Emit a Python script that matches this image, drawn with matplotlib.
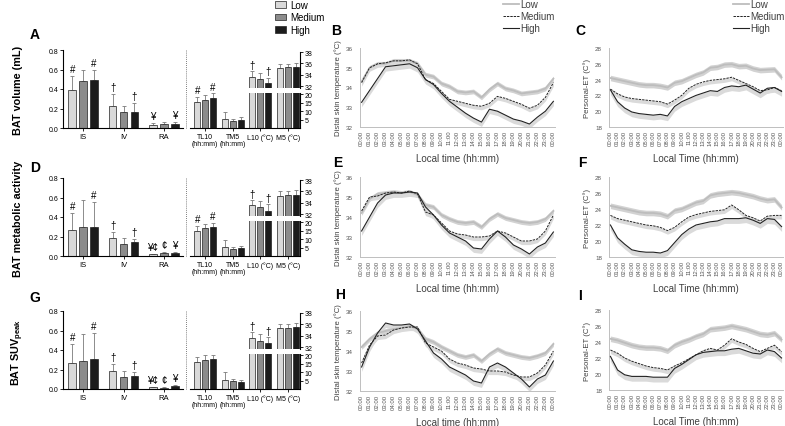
import matplotlib
matplotlib.use('Agg')
import matplotlib.pyplot as plt
import numpy as np
from matplotlib.patches import Patch
from matplotlib.lines import Line2D

plt.rcParams['font.family'] = ['Liberation Sans', 'DejaVu Sans']
plt.rcParams['mathtext.fontset'] = 'custom'
plt.rcParams['mathtext.rm'] = 'Liberation Sans'

GROUPS = ['Low', 'Medium', 'High']
BAR_COLORS = ['#d9d9d9', '#8c8c8c', '#1c1c1c']
LEFT_CATS = ['IS', 'IV', 'RA']
RIGHT_CATS = ['TL10\n(hh:mm)', 'TM5\n(hh:mm)', 'L10 (°C)', 'M5 (°C)']
HOURS = ['00:00', '01:00', '02:00', '03:00', '04:00', '05:00', '06:00', '07:00',
         '08:00', '09:00', '10:00', '11:00', '12:00', '13:00', '14:00', '15:00',
         '16:00', '17:00', '18:00', '19:00', '20:00', '21:00', '22:00', '23:00', '00:00']

# bar panels: rows are Low / Medium / High, columns are the categories
A_left_mean = [[0.39, 0.23, 0.03], [0.48, 0.16, 0.04], [0.49, 0.16, 0.04]]
A_left_sd = [[0.14, 0.12, 0.02], [0.12, 0.07, 0.02], [0.11, 0.10, 0.02]]
A_left_marks = [['#', '†', '¥'], ['', '', ''], ['#', '†', '¥']]
A_right_mean = [[15.3, 5.5, 33.6, 35.2], [16.5, 4.0, 33.2, 35.4], [17.7, 4.5, 32.6, 35.3]]
A_right_sd = [[3.2, 4.0, 1.0, 0.7], [2.7, 1.2, 1.15, 0.4], [2.7, 2.0, 0.9, 0.8]]
A_right_marks = [['#', '', '†', ''], ['', '', '', ''], ['#', '', '†', '']]

D_left_mean = [[0.27, 0.18, 0.02], [0.30, 0.12, 0.03], [0.30, 0.14, 0.03]]
D_left_sd = [[0.17, 0.07, 0.005], [0.27, 0.06, 0.01], [0.25, 0.03, 0.01]]
D_left_marks = [['#', '†', '¥¢'], ['', '', '¢'], ['#', '†', '¥']]
D_right_mean = [[14.8, 5.5, 33.6, 35.25], [16.2, 4.0, 33.2, 35.4], [17.2, 4.5, 32.6, 35.3]]
D_right_sd = [[3.0, 4.0, 0.9, 0.75], [2.8, 1.2, 1.1, 0.6], [2.3, 1.6, 1.1, 0.9]]
D_right_marks = [['#', '', '†', ''], ['', '', '', ''], ['#', '', '†', '']]

G_left_mean = [[0.27, 0.18, 0.02], [0.29, 0.12, 0.015], [0.31, 0.13, 0.03]]
G_left_sd = [[0.19, 0.08, 0.005], [0.27, 0.06, 0.01], [0.26, 0.04, 0.01]]
G_left_marks = [['#', '†', '¥¢'], ['', '', '¢'], ['#', '†', '¥']]
G_right_mean = [[16.0, 5.5, 33.6, 35.3], [17.0, 4.5, 33.1, 35.4], [17.5, 4.0, 32.7, 35.5]]
G_right_sd = [[3.0, 4.5, 1.0, 0.7], [3.0, 1.5, 1.2, 0.6], [2.5, 1.5, 1.1, 0.7]]
G_right_marks = [['', '', '†', ''], ['', '', '', ''], ['', '', '†', '']]

# distal skin temperature, hourly (°C)
B_low = [34.3, 35.0, 35.2, 35.2, 35.35, 35.35, 35.35, 35.2, 34.65, 34.55, 34.2, 34.05, 33.8,
         33.75, 33.8, 33.5, 33.9, 34.2, 33.95, 33.85, 33.7, 33.75, 33.8, 33.95, 34.45]
B_med = [34.25, 35.0, 35.2, 35.25, 35.35, 35.35, 35.4, 35.2, 34.4, 34.2, 33.8, 33.4, 33.3,
         33.2, 33.1, 33.05, 33.2, 33.55, 33.45, 33.3, 33.15, 32.95, 33.1, 33.5, 34.25]
B_high = [33.25, 33.85, 34.45, 35.05, 35.1, 35.15, 35.2, 35.0, 34.4, 34.15, 33.7, 33.3, 33.0,
          32.7, 32.45, 32.25, 32.9, 32.8, 32.6, 32.4, 32.3, 32.15, 32.5, 32.8, 33.3]
E_low = [34.2, 34.9, 35.15, 35.2, 35.25, 35.2, 35.25, 35.1, 34.6, 34.5, 34.1, 33.9, 33.75,
         33.7, 33.75, 33.5, 33.9, 34.15, 33.95, 33.85, 33.75, 33.7, 33.75, 33.9, 34.3]
E_med = [34.3, 35.0, 35.05, 35.2, 35.25, 35.2, 35.3, 35.15, 34.25, 34.1, 33.7, 33.3, 33.15,
         33.1, 33.0, 33.0, 33.05, 33.3, 33.2, 33.0, 32.8, 32.8, 32.9, 33.3, 34.1]
E_high = [33.3, 34.0, 34.7, 35.1, 35.2, 35.2, 35.25, 35.2, 34.5, 34.1, 33.6, 33.2, 33.0,
          32.8, 32.45, 32.4, 32.9, 33.3, 33.0, 32.6, 32.4, 32.15, 32.5, 32.7, 33.25]
H_low = [34.2, 34.6, 34.9, 35.0, 35.1, 35.15, 35.25, 35.1, 34.6, 34.45, 34.2, 34.0, 33.8,
         33.7, 33.8, 33.5, 33.85, 34.1, 33.9, 33.8, 33.7, 33.65, 33.75, 33.9, 34.35]
H_med = [33.4, 34.3, 34.75, 34.8, 35.05, 35.15, 35.2, 35.2, 34.4, 34.2, 34.0, 33.6, 33.4,
         33.3, 33.15, 33.1, 33.0, 33.0, 32.95, 32.8, 32.7, 32.7, 32.9, 33.3, 34.0]
H_high = [33.2, 34.2, 34.9, 35.4, 35.3, 35.3, 35.35, 35.1, 34.5, 33.9, 33.6, 33.2, 33.0,
          32.8, 32.5, 32.4, 33.2, 33.4, 33.2, 32.9, 32.6, 32.2, 32.6, 32.8, 33.5]
SKIN_SEM = [0.12, 0.18, 0.22]

# personal effective temperature, hourly (°C)
C_low = [24.2, 24.0, 23.8, 23.6, 23.4, 23.3, 23.3, 23.2, 23.0, 23.6, 23.8, 24.2, 24.6,
         24.9, 25.5, 25.6, 25.9, 25.95, 25.7, 25.75, 25.4, 25.2, 25.25, 25.3, 24.3]
C_med = [22.8, 22.2, 21.8, 21.6, 21.5, 21.4, 21.3, 21.2, 20.9, 21.4, 22.0, 22.9, 23.4,
         23.7, 23.9, 24.0, 24.1, 24.3, 23.9, 23.5, 23.1, 22.6, 22.7, 23.0, 22.6]
C_high = [22.7, 21.2, 20.4, 19.9, 19.7, 19.6, 19.5, 19.6, 19.4, 20.6, 21.2, 21.6, 22.0,
          22.3, 22.6, 22.5, 23.0, 23.2, 23.1, 23.3, 22.8, 22.3, 22.9, 23.0, 22.5]
F_low = [24.4, 24.2, 24.0, 23.8, 23.6, 23.5, 23.5, 23.4, 23.1, 23.8, 24.0, 24.4, 24.8,
         25.0, 25.7, 25.9, 26.0, 26.1, 26.0, 25.8, 25.6, 25.3, 25.1, 25.2, 24.2]
F_med = [23.2, 22.8, 22.6, 22.4, 22.2, 22.0, 21.9, 21.7, 21.3, 21.7, 22.4, 23.0, 23.3,
         23.5, 23.7, 23.8, 23.9, 24.5, 23.9, 23.2, 22.9, 22.5, 23.1, 23.2, 23.2]
F_high = [22.0, 20.4, 19.6, 18.9, 18.7, 18.6, 18.6, 18.5, 18.8, 19.8, 20.8, 21.5, 22.0,
          22.2, 22.4, 22.5, 22.8, 22.8, 22.8, 22.9, 22.6, 22.2, 22.8, 22.7, 21.8]
I_low = [24.4, 24.2, 23.9, 23.6, 23.4, 23.3, 23.3, 23.2, 22.9, 23.6, 24.0, 24.3, 24.7,
         25.0, 25.6, 25.7, 25.8, 26.0, 25.8, 25.6, 25.3, 25.0, 24.9, 25.1, 24.3]
I_med = [23.0, 22.6, 22.0, 21.6, 21.3, 21.0, 20.8, 20.7, 20.5, 21.0, 21.4, 21.9, 22.4,
         22.9, 23.2, 23.0, 23.6, 24.4, 24.0, 23.7, 23.2, 22.8, 23.2, 23.6, 22.8]
I_high = [22.2, 20.5, 19.9, 19.7, 19.7, 19.7, 19.6, 19.6, 19.6, 20.7, 21.2, 21.8, 22.4,
          22.7, 22.8, 22.9, 22.9, 23.1, 23.2, 22.9, 22.6, 22.5, 23.0, 22.8, 22.0]
ET_SEM = [0.35, 0.45, 0.6]

W, H = 785, 427
fig = plt.figure(figsize=(W / 100, H / 100), dpi=100)


def rect(x0, y0, x1, y1):
    # pixel box measured from the top-left corner
    return [x0 / W, 1 - y1 / H, (x1 - x0) / W, (y1 - y0) / H]


def draw_bars(ax, x, mean, sd, marks, width, offset, pad):
    for k in range(3):
        xs = x + (k - 1) * offset
        m = np.array(mean[k])
        s = np.array(sd[k])
        ax.bar(xs, m, width, color=BAR_COLORS[k], edgecolor='#222222', linewidth=0.5, zorder=2)
        ax.errorbar(xs, m, yerr=[np.zeros(len(m)), s], fmt='none', ecolor='#7a7a7a',
                    elinewidth=0.6, capsize=1.5, capthick=0.6, zorder=1)
        for xi, mi, si, t in zip(xs, m, s, marks[k]):
            if t:
                ax.text(xi, mi + si + pad, t, ha='center', va='bottom', fontsize=7)


def bar_panel(bottom, left_mean, left_sd, left_marks, right_mean, right_sd, right_marks):
    top = bottom - 78
    ax = fig.add_axes(rect(63, top, 183, bottom))
    draw_bars(ax, np.arange(3), left_mean, left_sd, left_marks, 0.19, 0.27, 0.02)
    ax.set_xlim(-0.5, 2.475)
    ax.set_ylim(0, 0.8)
    ax.set_yticks([0.0, 0.2, 0.4, 0.6, 0.8])
    ax.set_xticks(np.arange(3))
    ax.set_xticklabels(LEFT_CATS, fontsize=5.5)
    ax.tick_params(axis='y', labelsize=5, length=2, width=0.6, pad=1.5)
    ax.tick_params(axis='x', length=2, width=0.6, pad=1.5)
    ax.spines[['top', 'right']].set_visible(False)
    for sp in ['left', 'bottom']:
        ax.spines[sp].set_linewidth(0.8)

    xr = np.arange(4)
    # split right-hand axis: hh:mm values below the break, °C values above it
    hi = fig.add_axes(rect(190, bottom - 76, 300, bottom - 40.5))
    lo = fig.add_axes(rect(190, bottom - 35, 300, bottom))
    lo_marks = [[t if j < 2 else '' for j, t in enumerate(r)] for r in right_marks]
    hi_marks = [[t if j >= 2 else '' for j, t in enumerate(r)] for r in right_marks]
    draw_bars(lo, xr, right_mean, right_sd, lo_marks, 0.22, 0.29, 1.0)
    draw_bars(hi, xr, right_mean, right_sd, hi_marks, 0.22, 0.29, 0.2)
    for a in (lo, hi):
        a.patch.set_visible(False)
        a.set_xlim(-0.55, 3.45)
        a.spines[['top', 'left']].set_visible(False)
        a.spines['right'].set_linewidth(0.8)
        a.yaxis.tick_right()
        a.tick_params(axis='y', labelsize=5, length=2, width=0.6, pad=1.5)
    lo.set_ylim(0, 20.6)
    lo.set_yticks([5, 10, 15, 20])
    lo.set_xticks(xr)
    lo.set_xticklabels(RIGHT_CATS, fontsize=5, linespacing=1.0)
    lo.tick_params(axis='x', length=2, width=0.6, pad=1.5)
    lo.spines['bottom'].set_linewidth(0.8)
    hi.set_ylim(31.75, 38)
    hi.set_yticks([32, 34, 36, 38])
    hi.set_xticks([])
    hi.spines['bottom'].set_visible(False)

    fig.add_artist(Line2D([186 / W, 186 / W], [1 - bottom / H, 1 - top / H],
                          transform=fig.transFigure, color='#555555', lw=0.6, ls=(0, (1, 1.5))))


def line_panel(x0, x1, top, bottom, low, med, high, sem, ylim, yticks, ylabel, xlabel):
    ax = fig.add_axes(rect(x0, top, x1, bottom))
    t = np.arange(len(low))
    low, med, high = np.array(low), np.array(med), np.array(high)
    ax.fill_between(t, low - sem[0], low + sem[0], color='#d2d2d2', lw=0, zorder=1)
    ax.fill_between(t, med - sem[1], med, color='#dadada', lw=0, zorder=1)
    ax.fill_between(t, high - sem[2], high, color='#dadada', lw=0, zorder=1)
    ax.plot(t, low, color='#bdbdbd', lw=1.3, zorder=2)
    ax.plot(t, med, color='#222222', lw=0.7, ls=(0, (2.5, 1)), zorder=3)
    ax.plot(t, high, color='#222222', lw=0.8, zorder=3)
    ax.set_xlim(-0.2, 24.2)
    ax.set_ylim(*ylim)
    ax.set_yticks(yticks)
    ax.set_xticks(t)
    ax.set_xticklabels(HOURS, rotation=90, fontsize=4.3, color='#555555')
    ax.tick_params(axis='y', labelsize=4.5, labelcolor='#555555', length=0, pad=5)
    ax.tick_params(axis='x', length=0, pad=2)
    ax.spines[['top', 'right']].set_visible(False)
    for sp in ['left', 'bottom']:
        ax.spines[sp].set_color('#bfbfbf')
        ax.spines[sp].set_linewidth(0.7)
    ax.set_ylabel(ylabel, fontsize=5.6, color='#404040', labelpad=3)
    ax.set_xlabel(xlabel, fontsize=7, color='#404040', labelpad=6)
    return ax


bar_panel(129, A_left_mean, A_left_sd, A_left_marks, A_right_mean, A_right_sd, A_right_marks)
bar_panel(257, D_left_mean, D_left_sd, D_left_marks, D_right_mean, D_right_sd, D_right_marks)
bar_panel(390, G_left_mean, G_left_sd, G_left_marks, G_right_mean, G_right_sd, G_right_marks)

skin_label = 'Distal skin temperature (°C)'
et_label = 'Personal-ET (C°)'
line_panel(360, 555, 49, 128, B_low, B_med, B_high, SKIN_SEM, (32, 36), [32, 33, 34, 35, 36],
           skin_label, 'Local time (hh:mm)')
line_panel(360, 555, 178, 258, E_low, E_med, E_high, SKIN_SEM, (32, 36), [32, 33, 34, 35, 36],
           skin_label, 'Local time (hh:mm)')
line_panel(360, 555, 312, 392, H_low, H_med, H_high, SKIN_SEM, (32, 36), [32, 33, 34, 35, 36],
           skin_label, 'Local time (hh:mm)')
line_panel(609, 783, 49, 128, C_low, C_med, C_high, ET_SEM, (18, 28), [18, 20, 22, 24, 26, 28],
           et_label, 'Local Time (hh:mm)')
line_panel(609, 783, 178, 258, F_low, F_med, F_high, ET_SEM, (18, 28), [18, 20, 22, 24, 26, 28],
           et_label, 'Local Time (hh:mm)')
line_panel(609, 783, 311, 391, I_low, I_med, I_high, ET_SEM, (18, 28), [18, 20, 22, 24, 26, 28],
           et_label, 'Local Time (hh:mm)')

# panel letters
for letter, (px, py) in zip('ABCDEFGHI', [(35, 35), (336, 31), (580, 31),
                                          (35, 168), (338, 163), (582, 163),
                                          (35, 298), (340, 295), (580, 296)]):
    fig.text(px / W, 1 - py / H, letter, fontsize=10, fontweight='bold', ha='center', va='center')

# row titles
for label, py in [('BAT volume (mL)', 90), ('BAT metabolic activity', 219),
                  ('BAT SUV$_{\\mathregular{peak}}$', 352)]:
    fig.text(18 / W, 1 - py / H, label, rotation=90, fontsize=7.8, fontweight='bold',
             ha='center', va='center')

# legends
bar_handles = [Patch(facecolor=c, edgecolor='#222222', linewidth=0.5) for c in BAR_COLORS]
fig.legend(bar_handles, GROUPS, loc='upper left', bbox_to_anchor=(275 / W, 1 - 1 / H),
           frameon=False, fontsize=7, handlelength=1.1, handleheight=0.6, handletextpad=0.5,
           labelspacing=0.25, borderpad=0, borderaxespad=0)
line_handles = [Line2D([], [], color='#bdbdbd', lw=1.3),
                Line2D([], [], color='#222222', lw=0.7, ls=(0, (2.5, 1))),
                Line2D([], [], color='#222222', lw=0.8)]
for lx in (503, 733):
    fig.legend(line_handles, GROUPS, loc='upper left', bbox_to_anchor=(lx / W, 1 - 0.5 / H),
               frameon=False, fontsize=7, handlelength=1.6, handletextpad=0.2,
               labelspacing=0.2, borderpad=0, borderaxespad=0, labelcolor='#404040')

fig.savefig('out.png', dpi=100)
